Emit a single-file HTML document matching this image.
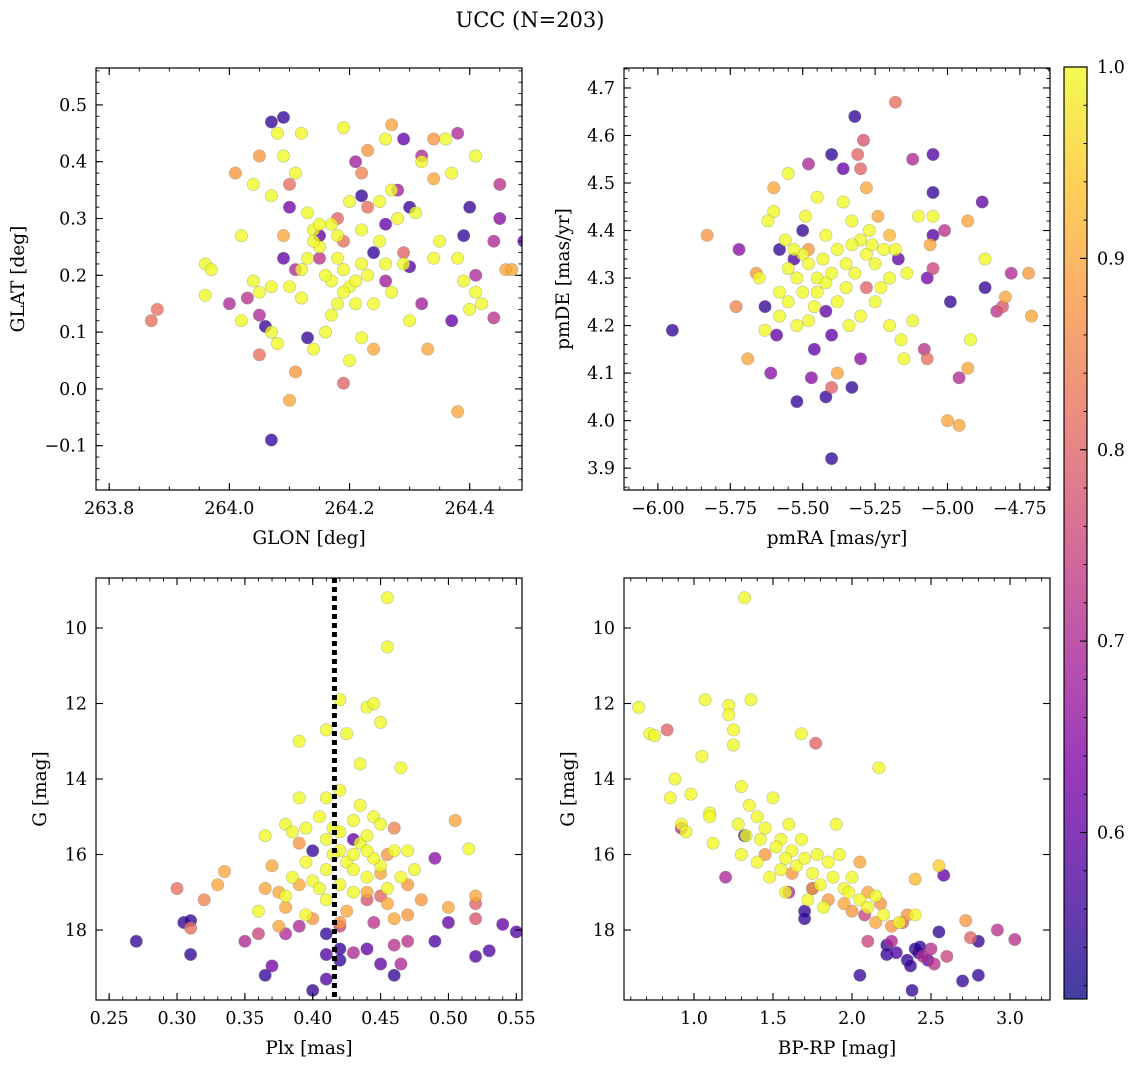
<!DOCTYPE html>
<html><head><meta charset="utf-8"><style>
html,body{margin:0;padding:0;background:#fff;}
svg text{font-family:"DejaVu Serif","Liberation Serif",serif;fill:#000;}
</style></head><body>
<svg id="fig" width="1136" height="1067" viewBox="0 0 1136 1067" xmlns="http://www.w3.org/2000/svg">
<defs>
<linearGradient id="plasma" x1="0" y1="1" x2="0" y2="0">
<stop offset="0" stop-color="#0d0887"/><stop offset="0.125" stop-color="#4c02a1"/><stop offset="0.25" stop-color="#7e03a8"/><stop offset="0.375" stop-color="#a92395"/><stop offset="0.5" stop-color="#cc4778"/><stop offset="0.625" stop-color="#e66c5c"/><stop offset="0.75" stop-color="#f89540"/><stop offset="0.875" stop-color="#fdc328"/><stop offset="1" stop-color="#f0f921"/>
</linearGradient>
</defs>
<text x="530" y="27" font-size="21" text-anchor="middle">UCC (N=203)</text>
</svg>
<script>
// ---- data arrays ----
const tlData = [[264.07,0.47,.55],[264.09,0.478,.55],[264.06,0.11,.55],[264.07,-0.09,.55],[264.13,0.09,.55],[264.22,0.34,.55],[264.30,0.32,.55],[264.30,0.215,.58],[264.40,0.32,.55],[264.39,0.27,.55],[264.49,0.26,.6],[264.37,0.12,.6],[264.29,0.44,.6],[264.24,0.24,.55],[264.15,0.27,.6],[264.10,0.32,.62],[264.09,0.23,.6],[264.26,0.29,.6],[264.45,0.36,.72],[264.44,0.125,.72],[264.03,0.16,.72],[264.00,0.15,.7],[264.11,0.21,.7],[264.21,0.40,.68],[264.28,0.35,.68],[264.32,0.41,.7],[264.38,0.45,.7],[264.41,0.20,.7],[264.44,0.26,.7],[264.45,0.30,.65],[264.26,0.19,.68],[264.32,0.15,.68],[264.15,0.23,.72],[264.05,0.13,.7],[264.29,0.24,.8],[263.87,0.12,.82],[263.88,0.14,.82],[264.19,0.01,.8],[264.05,0.06,.82],[264.10,0.36,.82],[264.18,0.30,.8],[264.19,0.26,.82],[264.22,0.38,.85],[264.23,0.32,.82],[264.01,0.38,.88],[264.05,0.41,.88],[264.23,0.42,.88],[264.34,0.44,.88],[264.27,0.465,.9],[264.38,-0.04,.9],[264.33,0.07,.9],[264.24,0.07,.9],[264.10,-0.02,.9],[264.11,0.03,.88],[264.34,0.37,.9],[264.46,0.21,.9],[264.47,0.21,.9],[264.09,0.27,.9],[264.08,0.45,1],[264.12,0.45,1],[264.09,0.41,1],[264.19,0.46,1],[264.26,0.44,1],[264.32,0.40,1],[264.41,0.41,1],[264.36,0.44,1],[264.37,0.38,1],[264.04,0.36,1],[264.07,0.34,1],[264.11,0.38,1],[264.17,0.29,1],[264.14,0.28,1],[264.13,0.31,1],[264.20,0.33,1],[264.22,0.28,1],[264.25,0.33,1],[264.27,0.35,1],[264.28,0.30,1],[264.31,0.31,1],[264.35,0.26,1],[264.02,0.27,1],[263.96,0.22,1],[263.97,0.21,1],[263.96,0.165,1],[264.02,0.12,1],[264.04,0.19,1],[264.07,0.18,1],[264.10,0.18,1],[264.12,0.16,1],[264.15,0.25,1],[264.18,0.23,1],[264.19,0.21,1],[264.20,0.18,1],[264.21,0.15,1],[264.22,0.22,1],[264.23,0.20,1],[264.19,0.17,1],[264.17,0.13,1],[264.16,0.10,1],[264.14,0.07,1],[264.20,0.05,1],[264.22,0.09,1],[264.24,0.15,1],[264.27,0.17,1],[264.29,0.22,1],[264.30,0.12,1],[264.34,0.23,1],[264.38,0.23,1],[264.40,0.14,1],[264.41,0.17,1],[264.42,0.15,1],[264.39,0.19,1],[264.08,0.08,1],[264.07,0.10,1],[264.18,0.27,1],[264.21,0.19,1],[264.17,0.19,1],[264.13,0.23,1],[264.12,0.21,1],[264.05,0.17,1],[264.15,0.29,1],[264.18,0.15,1],[264.25,0.26,1],[264.16,0.20,1],[264.26,0.22,1],[264.14,0.26,1]];
const trData = [[-5.95,4.19,.55],[-5.40,4.56,.55],[-5.32,4.64,.55],[-5.36,4.53,.6],[-5.50,4.40,.55],[-5.53,4.34,.58],[-5.58,4.36,.55],[-5.63,4.24,.55],[-5.59,4.18,.6],[-5.52,4.04,.55],[-5.42,4.05,.55],[-5.40,3.92,.55],[-5.33,4.07,.55],[-5.46,4.15,.6],[-5.05,4.56,.58],[-5.05,4.48,.55],[-5.05,4.39,.58],[-4.99,4.25,.55],[-4.88,4.46,.6],[-4.87,4.28,.55],[-5.07,4.30,.62],[-5.17,4.34,.6],[-5.40,4.18,.6],[-5.42,4.23,.6],[-5.30,4.13,.65],[-5.72,4.36,.65],[-5.61,4.10,.65],[-5.47,4.09,.65],[-5.48,4.54,.7],[-5.12,4.55,.7],[-5.01,4.40,.72],[-4.96,4.09,.7],[-4.83,4.23,.72],[-4.78,4.31,.7],[-5.31,4.56,.8],[-5.29,4.59,.78],[-5.30,4.53,.8],[-5.18,4.67,.82],[-5.28,4.28,.8],[-5.07,4.13,.82],[-5.05,4.32,.75],[-5.08,4.15,.72],[-4.81,4.24,.78],[-5.73,4.24,.85],[-5.40,4.07,.8],[-5.83,4.39,.88],[-5.66,4.31,.88],[-5.69,4.13,.9],[-5.38,4.10,.9],[-5.00,4.00,.9],[-4.96,3.99,.9],[-4.93,4.11,.9],[-4.93,4.42,.9],[-4.71,4.22,.9],[-4.72,4.31,.88],[-4.80,4.26,.9],[-5.48,4.36,.88],[-5.24,4.43,.9],[-5.28,4.49,.9],[-5.06,4.37,.9],[-5.60,4.49,.9],[-5.20,4.39,.92],[-5.60,4.44,1],[-5.62,4.42,1],[-5.56,4.38,1],[-5.50,4.35,1],[-5.48,4.33,1],[-5.45,4.30,1],[-5.52,4.30,1],[-5.55,4.32,1],[-5.58,4.27,1],[-5.55,4.25,1],[-5.50,4.27,1],[-5.45,4.27,1],[-5.42,4.29,1],[-5.40,4.31,1],[-5.38,4.36,1],[-5.35,4.33,1],[-5.32,4.31,1],[-5.30,4.38,1],[-5.28,4.35,1],[-5.25,4.33,1],[-5.22,4.36,1],[-5.20,4.30,1],[-5.27,4.40,1],[-5.33,4.42,1],[-5.36,4.46,1],[-5.48,4.21,1],[-5.52,4.20,1],[-5.46,4.24,1],[-5.38,4.25,1],[-5.34,4.20,1],[-5.30,4.22,1],[-5.25,4.25,1],[-5.20,4.20,1],[-5.16,4.17,1],[-5.12,4.21,1],[-5.10,4.43,1],[-5.05,4.43,1],[-5.14,4.31,1],[-5.15,4.13,1],[-4.92,4.17,1],[-4.87,4.34,1],[-5.63,4.19,1],[-5.58,4.22,1],[-5.65,4.30,1],[-5.55,4.52,1],[-5.45,4.47,1],[-5.49,4.43,1],[-5.42,4.39,1],[-5.26,4.37,1],[-5.18,4.36,1],[-5.53,4.36,1],[-5.35,4.28,1],[-5.43,4.34,1],[-5.23,4.28,1],[-5.33,4.37,1]];
const blData = [[0.27,18.3,.55],[0.31,18.65,.55],[0.305,17.8,.55],[0.31,17.75,.55],[0.365,19.2,.55],[0.40,19.6,.55],[0.41,19.3,.58],[0.42,18.5,.55],[0.42,18.8,.55],[0.41,18.1,.55],[0.44,18.5,.6],[0.46,19.2,.55],[0.49,18.3,.58],[0.50,17.8,.6],[0.52,18.7,.58],[0.53,18.55,.58],[0.55,18.05,.58],[0.54,17.85,.6],[0.40,15.9,.55],[0.43,15.6,.6],[0.41,18.65,.58],[0.37,18.95,.62],[0.45,18.9,.6],[0.35,18.3,.7],[0.36,18.1,.75],[0.38,18.1,.7],[0.39,17.9,.7],[0.43,18.6,.7],[0.465,18.9,.7],[0.46,18.4,.72],[0.47,18.3,.72],[0.445,17.8,.72],[0.49,16.1,.65],[0.52,17.7,.78],[0.52,17.3,.8],[0.45,17.1,.8],[0.44,17.2,.78],[0.42,17.9,.75],[0.31,17.95,.82],[0.32,17.2,.85],[0.30,16.9,.82],[0.33,16.8,.9],[0.335,16.45,.9],[0.365,16.9,.9],[0.37,16.3,.9],[0.375,17.0,.9],[0.38,17.4,.9],[0.375,17.9,.9],[0.40,17.7,.88],[0.42,17.8,.88],[0.425,17.5,.9],[0.45,16.5,.9],[0.455,17.3,.9],[0.46,17.7,.9],[0.47,16.8,.88],[0.48,17.2,.88],[0.50,17.4,.9],[0.505,15.1,.9],[0.52,17.1,.9],[0.455,16.0,.88],[0.46,15.3,.85],[0.44,17.0,.9],[0.39,16.8,.9],[0.47,17.6,.88],[0.39,15.7,.88],[0.455,9.2,1],[0.455,10.5,1],[0.42,11.9,1],[0.425,12.8,1],[0.41,12.7,1],[0.44,12.1,1],[0.445,12.0,1],[0.45,12.5,1],[0.435,13.6,1],[0.39,13.0,1],[0.41,14.5,1],[0.42,14.3,1],[0.435,14.7,1],[0.445,15.0,1],[0.45,15.2,1],[0.465,13.7,1],[0.39,14.5,1],[0.38,15.2,1],[0.365,15.5,1],[0.385,15.4,1],[0.395,15.3,1],[0.405,15.0,1],[0.41,15.6,1],[0.415,15.3,1],[0.42,15.9,1],[0.425,16.2,1],[0.43,16.0,1],[0.435,15.7,1],[0.44,15.5,1],[0.45,16.3,1],[0.46,15.9,1],[0.47,15.9,1],[0.465,16.6,1],[0.44,16.6,1],[0.43,17.0,1],[0.41,16.4,1],[0.40,16.7,1],[0.395,16.2,1],[0.385,16.6,1],[0.38,17.1,1],[0.395,17.6,1],[0.41,17.2,1],[0.42,16.8,1],[0.445,16.1,1],[0.455,16.9,1],[0.475,16.4,1],[0.515,15.85,1],[0.36,17.5,1],[0.43,16.4,1],[0.42,15.4,1],[0.43,15.1,1],[0.415,16.0,1],[0.44,15.9,1],[0.405,16.9,1]];
const brData = [[0.65,12.1,1],[0.72,12.8,1],[0.75,12.85,1],[1.07,11.9,1],[1.22,12.05,1],[1.22,12.3,1],[1.25,12.7,1],[1.36,11.9,1],[1.32,9.2,1],[1.68,12.8,1],[2.17,13.7,1],[1.05,13.4,1],[0.88,14.0,1],[0.85,14.5,1],[0.98,14.4,1],[1.10,14.9,1],[1.10,15.0,1],[0.92,15.2,1],[0.95,15.4,1],[1.12,15.7,1],[1.25,13.1,1],[1.30,14.2,1],[1.35,14.7,1],[1.28,15.2,1],[1.33,15.5,1],[1.30,16.0,1],[1.40,15.0,1],[1.45,15.3,1],[1.50,14.5,1],[1.55,15.6,1],[1.60,15.2,1],[1.62,15.9,1],[1.65,16.3,1],[1.70,16.1,1],[1.75,16.5,1],[1.80,16.8,1],[1.85,16.2,1],[1.90,15.2,1],[1.92,16.0,1],[1.95,16.9,1],[2.00,16.6,1],[2.05,17.2,1],[2.10,17.4,1],[2.20,17.6,1],[2.30,17.8,1],[1.48,16.6,1],[1.55,16.4,1],[1.40,16.2,1],[1.58,17.0,1],[1.72,17.2,1],[2.55,16.3,.95],[2.4,16.65,.92],[2.4,17.6,1],[1.45,16.0,.88],[1.62,16.5,.88],[1.75,16.9,.9],[1.85,17.2,.88],[1.95,17.3,.9],[2.05,16.2,.9],[2.10,17.0,.9],[2.18,17.3,.88],[2.15,17.8,.9],[2.25,17.9,.88],[2.35,17.6,.88],[2.00,17.5,.88],[2.72,17.75,.88],[0.83,12.7,.8],[1.77,13.05,.8],[0.92,15.3,.7],[1.20,16.6,.7],[1.60,17.0,.7],[2.08,17.6,.75],[2.10,18.3,.75],[2.25,18.3,.7],[2.32,17.8,.8],[2.5,18.5,.72],[2.52,18.9,.72],[2.6,18.7,.75],[2.75,18.2,.8],[2.92,18.0,.72],[3.03,18.25,.72],[2.45,18.7,.7],[1.32,15.5,.55],[1.70,17.5,.55],[1.70,17.7,.55],[1.75,16.9,.6],[2.05,19.2,.55],[2.22,18.4,.55],[2.22,18.65,.55],[2.38,19.6,.55],[2.35,18.8,.55],[2.37,18.95,.55],[2.40,18.5,.55],[2.42,18.6,.55],[2.43,18.45,.55],[2.48,18.8,.6],[2.55,18.05,.55],[2.58,16.55,.6],[2.70,19.35,.55],[2.80,19.2,.55],[2.80,18.3,.55],[2.28,18.6,.58],[1.52,15.8,1],[1.68,15.6,1],[1.78,16.0,1],[1.88,16.6,1],[1.42,15.6,1],[1.58,16.1,1],[1.98,17.0,1],[1.82,17.4,1],[2.15,17.1,1]];
const tlXTicks = [263.8,264.0,264.2,264.4];
const tlYTicks = [-0.1,0.0,0.1,0.2,0.3,0.4,0.5];
const trXTicks = [-6.00,-5.75,-5.50,-5.25,-5.00,-4.75];
const trYTicks = [3.9,4.0,4.1,4.2,4.3,4.4,4.5,4.6,4.7];
const blXTicks = [0.25,0.30,0.35,0.40,0.45,0.50,0.55];
const gTicks = [10,12,14,16,18];
const brXTicks = [1.0,1.5,2.0,2.5,3.0];
const cbTicks = [0.6,0.7,0.8,0.9,1.0];
const plxMean = 0.416;
const pMin = 0.513, pMax = 1.0;

const NS = 'http://www.w3.org/2000/svg';
const fig = document.getElementById('fig');
function mk(tag, attrs, parent){const e=document.createElementNS(NS,tag);for(const k in attrs)e.setAttribute(k,attrs[k]);(parent||fig).appendChild(e);return e;}
const stops=[[0,[13,8,135]],[0.125,[76,2,161]],[0.25,[126,3,168]],[0.375,[169,35,149]],[0.5,[204,71,120]],[0.625,[230,108,92]],[0.75,[248,149,64]],[0.875,[253,195,40]],[1,[240,249,33]]];
function plasma(p){let t=(p-pMin)/(pMax-pMin);t=Math.max(0,Math.min(1,t));for(let i=1;i<stops.length;i++){if(t<=stops[i][0]){const a=stops[i-1],b=stops[i],f=(t-a[0])/(b[0]-a[0]);const c=a[1].map((v,j)=>Math.round(v+(b[1][j]-v)*f));return `rgb(${c[0]},${c[1]},${c[2]})`;}}return 'rgb(240,249,33)';}

function panel(o){
  const g=mk('g',{});
  
  
  const X=v=>o.L+(v-o.x0)/(o.x1-o.x0)*(o.R-o.L);
  const Y=v=>o.B-(v-o.y0)/(o.y1-o.y0)*(o.B-o.T);
  const clip='clip-'+o.name;
  const cp=mk('clipPath',{id:clip},g);mk('rect',{x:o.L,y:o.T,width:o.R-o.L,height:o.B-o.T},cp);
  const pts=mk('g',{'clip-path':`url(#${clip})`},g);
  const data=o.data.slice().sort((a,b)=>a[2]-b[2]);
  data.forEach(d=>{const c=mk('circle',{cx:X(d[0]).toFixed(1),cy:Y(d[1]).toFixed(1),r:6.2,fill:plasma(d[2]),'fill-opacity':0.78,stroke:'#777','stroke-opacity':0.45,'stroke-width':0.6},pts);
    
    });
  if(o.vline!==undefined){const l=mk('line',{x1:X(o.vline),x2:X(o.vline),y1:o.T,y2:o.B,stroke:'#000','stroke-width':5,'stroke-dasharray':'5,4'},g);
    
    }
  mk('rect',{x:o.L,y:o.T,width:o.R-o.L,height:o.B-o.T,fill:'none',stroke:'#000','stroke-width':1.2},g);
  for(let v=Math.ceil(o.x0/o.xm)*o.xm; v<=o.x1; v+=o.xm){const x=X(v);mk('line',{x1:x,x2:x,y1:o.B,y2:o.B-3.5,stroke:'#000','stroke-width':0.9},g);mk('line',{x1:x,x2:x,y1:o.T,y2:o.T+3.5,stroke:'#000','stroke-width':0.9},g);}
  for(let v=Math.ceil(o.y0/o.ym)*o.ym; v<=o.y1; v+=o.ym){const y=Y(v);mk('line',{x1:o.L,x2:o.L+3.5,y1:y,y2:y,stroke:'#000','stroke-width':0.9},g);mk('line',{x1:o.R,x2:o.R-3.5,y1:y,y2:y,stroke:'#000','stroke-width':0.9},g);}
  o.xt.forEach(v=>{const x=X(v);mk('line',{x1:x,x2:x,y1:o.B,y2:o.B-7,stroke:'#000','stroke-width':1.1},g);mk('line',{x1:x,x2:x,y1:o.T,y2:o.T+7,stroke:'#000','stroke-width':1.1},g);
    const t=mk('text',{x:x,y:o.B+24,'font-size':17.5,'text-anchor':'middle'},g);t.textContent=v.toFixed(o.xd).replace('-','−');
    
    });
  o.yt.forEach(v=>{const y=Y(v);mk('line',{x1:o.L,x2:o.L+7,y1:y,y2:y,stroke:'#000','stroke-width':1.1},g);mk('line',{x1:o.R,x2:o.R-7,y1:y,y2:y,stroke:'#000','stroke-width':1.1},g);
    const t=mk('text',{x:o.L-9,y:y+6,'font-size':17.5,'text-anchor':'end'},g);t.textContent=v.toFixed(o.yd).replace('-','−');
    
    });
  const xl=mk('text',{x:(o.L+o.R)/2,y:o.B+54,'font-size':18.5,'text-anchor':'middle'},g);xl.textContent=o.xlab;
  
  
  const yx=o.ylx, yy=(o.T+o.B)/2;
  const yl=mk('text',{x:yx,y:yy,'font-size':18.5,'text-anchor':'middle',transform:`rotate(-90 ${yx} ${yy})`},g);yl.textContent=o.ylab;
  
  
}
panel({name:'glon-glat-panel',data:tlData,L:96,R:522,T:68,B:490,x0:263.778,x1:264.487,y0:-0.178,y1:0.565,xt:tlXTicks,yt:tlYTicks,xm:0.05,ym:0.02,xd:1,yd:1,xlab:'GLON [deg]',ylab:'GLAT [deg]',ylx:24});
panel({name:'pm-panel',data:trData,L:624,R:1050,T:68,B:490,x0:-6.117,x1:-4.646,y0:3.854,y1:4.742,xt:trXTicks,yt:trYTicks,xm:0.05,ym:0.02,xd:2,yd:1,xlab:'pmRA [mas/yr]',ylab:'pmDE [mas/yr]',ylx:569});
panel({name:'plx-g-panel',data:blData,L:96,R:522,T:578,B:1000,x0:0.2403,x1:0.5542,y0:19.854,y1:8.675,xt:blXTicks,yt:gTicks,xm:0.01,ym:0.5,xd:2,yd:0,xlab:'Plx [mas]',ylab:'G [mag]',ylx:46,vline:plxMean});
panel({name:'cmd-panel',data:brData,L:624,R:1050,T:578,B:1000,x0:0.557,x1:3.253,y0:19.854,y1:8.675,xt:brXTicks,yt:gTicks,xm:0.1,ym:0.5,xd:1,yd:0,xlab:'BP-RP [mag]',ylab:'G [mag]',ylx:574});

const cb=mk('g',{});


const cT=67,cB=999,cL=1064,cR=1087;
mk('rect',{x:cL,y:cT,width:cR-cL,height:cB-cT,fill:'url(#plasma)','fill-opacity':0.78},cb);
mk('rect',{x:cL,y:cT,width:cR-cL,height:cB-cT,fill:'none',stroke:'#000','stroke-width':1.2},cb);
const CY=v=>cB-(v-pMin)/(pMax-pMin)*(cB-cT);
for(let v=0.52; v<=1.0001; v+=0.02){const y=CY(v);mk('line',{x1:cR,x2:cR-3.5,y1:y,y2:y,stroke:'#000','stroke-width':0.9},cb);}
cbTicks.forEach(v=>{const y=CY(v);mk('line',{x1:cR,x2:cR-7,y1:y,y2:y,stroke:'#000','stroke-width':1.1},cb);
  const t=mk('text',{x:cR+10,y:y+6,'font-size':17.5},cb);t.textContent=v.toFixed(1);
  
  });
</script>
</body></html>
